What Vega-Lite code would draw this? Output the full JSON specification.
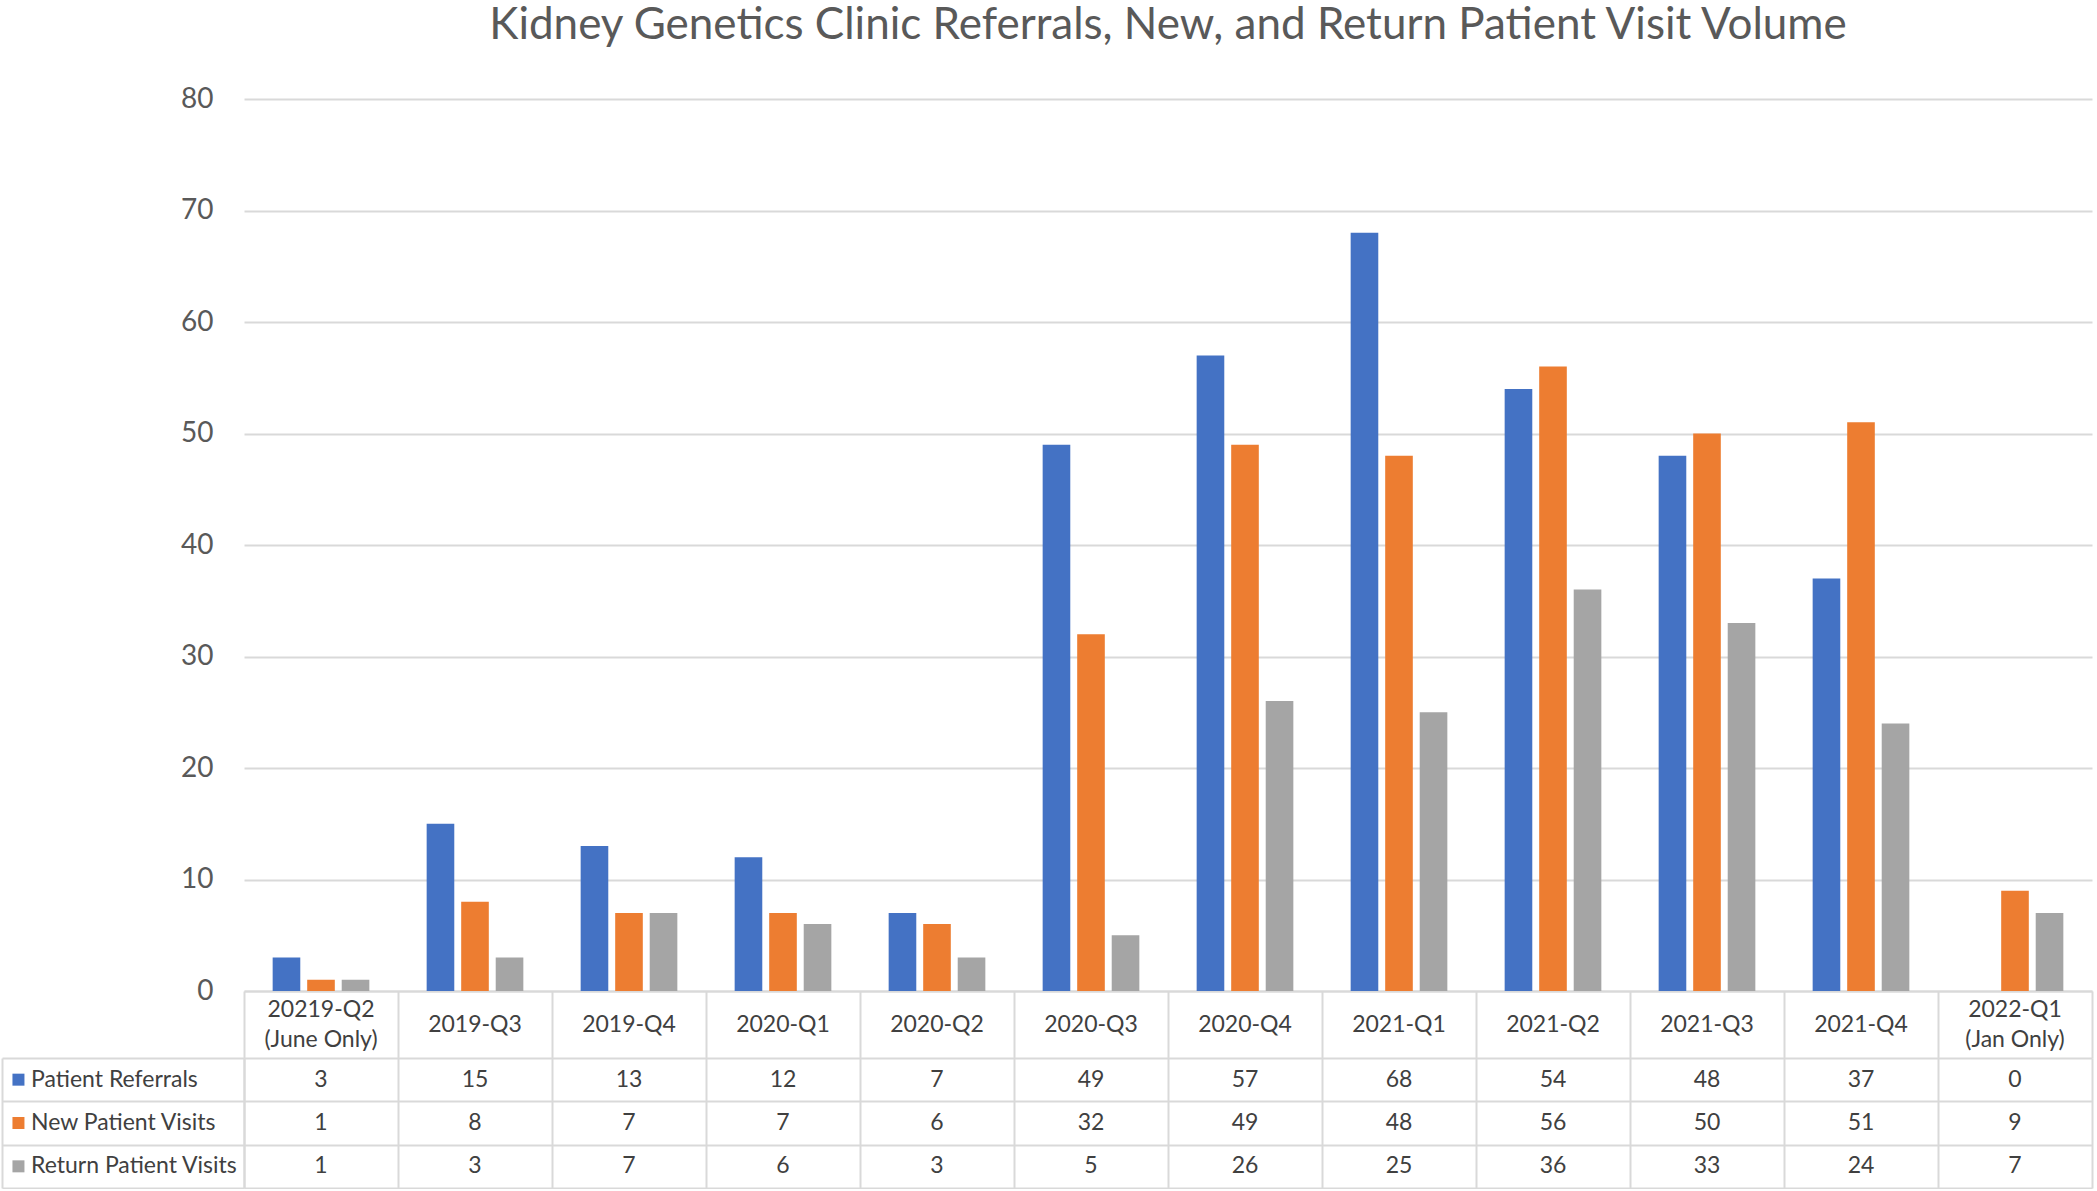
{
  "$schema": "https://vega.github.io/schema/vega-lite/v6.json",
  "padding": {"left": 2, "top": 4, "right": 2, "bottom": 1},
  "background": "white",
  "config": {"view": {"stroke": null}, "font": "Lato"},
  "datasets": {
    "visits": [
      {"quarter": "20219-Q2\n(June Only)", "series": "Patient Referrals", "value": 3},
      {"quarter": "2019-Q3", "series": "Patient Referrals", "value": 15},
      {"quarter": "2019-Q4", "series": "Patient Referrals", "value": 13},
      {"quarter": "2020-Q1", "series": "Patient Referrals", "value": 12},
      {"quarter": "2020-Q2", "series": "Patient Referrals", "value": 7},
      {"quarter": "2020-Q3", "series": "Patient Referrals", "value": 49},
      {"quarter": "2020-Q4", "series": "Patient Referrals", "value": 57},
      {"quarter": "2021-Q1", "series": "Patient Referrals", "value": 68},
      {"quarter": "2021-Q2", "series": "Patient Referrals", "value": 54},
      {"quarter": "2021-Q3", "series": "Patient Referrals", "value": 48},
      {"quarter": "2021-Q4", "series": "Patient Referrals", "value": 37},
      {"quarter": "2022-Q1\n(Jan Only)", "series": "Patient Referrals", "value": 0},
      {"quarter": "20219-Q2\n(June Only)", "series": "New Patient Visits", "value": 1},
      {"quarter": "2019-Q3", "series": "New Patient Visits", "value": 8},
      {"quarter": "2019-Q4", "series": "New Patient Visits", "value": 7},
      {"quarter": "2020-Q1", "series": "New Patient Visits", "value": 7},
      {"quarter": "2020-Q2", "series": "New Patient Visits", "value": 6},
      {"quarter": "2020-Q3", "series": "New Patient Visits", "value": 32},
      {"quarter": "2020-Q4", "series": "New Patient Visits", "value": 49},
      {"quarter": "2021-Q1", "series": "New Patient Visits", "value": 48},
      {"quarter": "2021-Q2", "series": "New Patient Visits", "value": 56},
      {"quarter": "2021-Q3", "series": "New Patient Visits", "value": 50},
      {"quarter": "2021-Q4", "series": "New Patient Visits", "value": 51},
      {"quarter": "2022-Q1\n(Jan Only)", "series": "New Patient Visits", "value": 9},
      {"quarter": "20219-Q2\n(June Only)", "series": "Return Patient Visits", "value": 1},
      {"quarter": "2019-Q3", "series": "Return Patient Visits", "value": 3},
      {"quarter": "2019-Q4", "series": "Return Patient Visits", "value": 7},
      {"quarter": "2020-Q1", "series": "Return Patient Visits", "value": 6},
      {"quarter": "2020-Q2", "series": "Return Patient Visits", "value": 3},
      {"quarter": "2020-Q3", "series": "Return Patient Visits", "value": 5},
      {"quarter": "2020-Q4", "series": "Return Patient Visits", "value": 26},
      {"quarter": "2021-Q1", "series": "Return Patient Visits", "value": 25},
      {"quarter": "2021-Q2", "series": "Return Patient Visits", "value": 36},
      {"quarter": "2021-Q3", "series": "Return Patient Visits", "value": 33},
      {"quarter": "2021-Q4", "series": "Return Patient Visits", "value": 24},
      {"quarter": "2022-Q1\n(Jan Only)", "series": "Return Patient Visits", "value": 7}
    ],
    "quarters": [
      {"quarter": "20219-Q2\n(June Only)"},
      {"quarter": "2019-Q3"},
      {"quarter": "2019-Q4"},
      {"quarter": "2020-Q1"},
      {"quarter": "2020-Q2"},
      {"quarter": "2020-Q3"},
      {"quarter": "2020-Q4"},
      {"quarter": "2021-Q1"},
      {"quarter": "2021-Q2"},
      {"quarter": "2021-Q3"},
      {"quarter": "2021-Q4"},
      {"quarter": "2022-Q1\n(Jan Only)"}
    ],
    "series": [
      {"series": "Patient Referrals"},
      {"series": "New Patient Visits"},
      {"series": "Return Patient Visits"}
    ]
  },
  "columns": 2,
  "bounds": "flush",
  "spacing": {"row": 0, "column": 0},
  "concat": [
    {
      "width": 242,
      "height": 892,
      "data": {"values": [{"k": 1}]},
      "mark": {"type": "point", "opacity": 0},
      "encoding": {}
    },
    {
      "width": 1848,
      "height": 892,
      "title": {
        "text": "Kidney Genetics Clinic Referrals, New, and Return Patient Visit Volume",
        "fontSize": 44,
        "font": "Lato",
        "fontWeight": "normal",
        "color": "#595959",
        "anchor": "middle",
        "offset": 37
      },
      "data": {"name": "visits"},
      "mark": {"type": "bar"},
      "encoding": {
        "x": {
          "field": "quarter",
          "type": "nominal",
          "sort": ["20219-Q2\n(June Only)", "2019-Q3", "2019-Q4", "2020-Q1", "2020-Q2", "2020-Q3", "2020-Q4", "2021-Q1", "2021-Q2", "2021-Q3", "2021-Q4", "2022-Q1\n(Jan Only)"],
          "scale": {"paddingInner": 0, "paddingOuter": 0},
          "axis": {
            "title": null,
            "orient": "bottom",
            "domain": true,
            "domainColor": "#d9d9d9",
            "domainWidth": 2,
            "ticks": false,
            "labels": false,
            "grid": false
          }
        },
        "xOffset": {
          "field": "series",
          "type": "nominal",
          "sort": ["Patient Referrals", "New Patient Visits", "Return Patient Visits"],
          "scale": {"paddingInner": 0.2, "paddingOuter": 0.83}
        },
        "y": {
          "field": "value",
          "type": "quantitative",
          "scale": {"domain": [0, 80], "nice": false},
          "axis": {
            "title": null,
            "values": [0, 10, 20, 30, 40, 50, 60, 70, 80],
            "grid": true,
            "gridColor": "#d9d9d9",
            "gridWidth": 2,
            "domain": false,
            "ticks": false,
            "labelPadding": 31,
            "labelFontSize": 28,
            "labelColor": "#595959"
          }
        },
        "color": {
          "field": "series",
          "type": "nominal",
          "scale": {"domain": ["Patient Referrals", "New Patient Visits", "Return Patient Visits"], "range": ["#4472c4", "#ed7d31", "#a5a5a5"]},
          "legend": null
        }
      }
    },
    {
      "width": 242,
      "height": 67,
      "data": {"values": [{"k": 1}]},
      "mark": {"type": "point", "opacity": 0},
      "encoding": {}
    },
    {
      "width": 1848,
      "height": 67,
      "data": {"name": "quarters"},
      "encoding": {
        "x": {
          "field": "quarter",
          "type": "nominal",
          "sort": ["20219-Q2\n(June Only)", "2019-Q3", "2019-Q4", "2020-Q1", "2020-Q2", "2020-Q3", "2020-Q4", "2021-Q1", "2021-Q2", "2021-Q3", "2021-Q4", "2022-Q1\n(Jan Only)"],
          "scale": {"type": "band", "paddingInner": 0, "paddingOuter": 0},
          "axis": {"title": null, "labels": false, "ticks": false, "domain": false, "grid": true, "gridColor": "#d9d9d9", "gridWidth": 2, "tickBand": "extent"}
        },
        "text": {"field": "quarter"}
      },
      "layer": [
        {
          "transform": [{"filter": "indexof(datum.quarter, '\\n') < 0"}],
          "mark": {"type": "text", "fontSize": 23, "color": "#404040", "baseline": "middle"}
        },
        {
          "transform": [{"filter": "indexof(datum.quarter, '\\n') >= 0"}],
          "mark": {"type": "text", "fontSize": 23, "color": "#404040", "baseline": "line-bottom", "lineHeight": 30, "lineBreak": "\n"}
        }
      ]
    },
    {
      "width": 242,
      "height": 130,
      "data": {"name": "series"},
      "layer": [
        {
          "mark": {"type": "square", "size": 144, "opacity": 1, "filled": true},
          "encoding": {
            "x": {
              "datum": "legend",
              "type": "nominal",
              "bandPosition": 0.068,
              "scale": {"type": "band", "paddingInner": 0, "paddingOuter": 0},
              "axis": {"title": null, "labels": false, "ticks": false, "domain": false, "grid": true, "gridColor": "#d9d9d9", "gridWidth": 2, "tickBand": "extent"}
            },
            "y": {
              "field": "series",
              "type": "nominal",
              "sort": ["Patient Referrals", "New Patient Visits", "Return Patient Visits"],
              "scale": {"type": "band", "paddingInner": 0, "paddingOuter": 0},
              "axis": {"title": null, "labels": false, "ticks": false, "domain": false, "grid": true, "gridColor": "#d9d9d9", "gridWidth": 2, "tickBand": "extent"}
            },
            "color": {
              "field": "series",
              "type": "nominal",
              "scale": {"domain": ["Patient Referrals", "New Patient Visits", "Return Patient Visits"], "range": ["#4472c4", "#ed7d31", "#a5a5a5"]},
              "legend": null
            }
          }
        },
        {
          "mark": {"type": "text", "align": "left", "baseline": "middle", "fontSize": 23, "color": "#404040"},
          "encoding": {
            "x": {"datum": "legend", "type": "nominal", "bandPosition": 0.12},
            "y": {"field": "series", "type": "nominal", "sort": ["Patient Referrals", "New Patient Visits", "Return Patient Visits"]},
            "text": {"field": "series"}
          }
        }
      ]
    },
    {
      "width": 1848,
      "height": 130,
      "data": {"name": "visits"},
      "mark": {"type": "text", "fontSize": 23, "color": "#404040", "baseline": "middle"},
      "encoding": {
        "x": {
          "field": "quarter",
          "type": "nominal",
          "sort": ["20219-Q2\n(June Only)", "2019-Q3", "2019-Q4", "2020-Q1", "2020-Q2", "2020-Q3", "2020-Q4", "2021-Q1", "2021-Q2", "2021-Q3", "2021-Q4", "2022-Q1\n(Jan Only)"],
          "scale": {"type": "band", "paddingInner": 0, "paddingOuter": 0},
          "axis": {"title": null, "labels": false, "ticks": false, "domain": false, "grid": true, "gridColor": "#d9d9d9", "gridWidth": 2, "tickBand": "extent"}
        },
        "y": {
          "field": "series",
          "type": "nominal",
          "sort": ["Patient Referrals", "New Patient Visits", "Return Patient Visits"],
          "scale": {"type": "band", "paddingInner": 0, "paddingOuter": 0},
          "axis": {"title": null, "labels": false, "ticks": false, "domain": false, "grid": true, "gridColor": "#d9d9d9", "gridWidth": 2, "tickBand": "extent"}
        },
        "text": {"field": "value", "type": "quantitative"}
      }
    }
  ]
}
